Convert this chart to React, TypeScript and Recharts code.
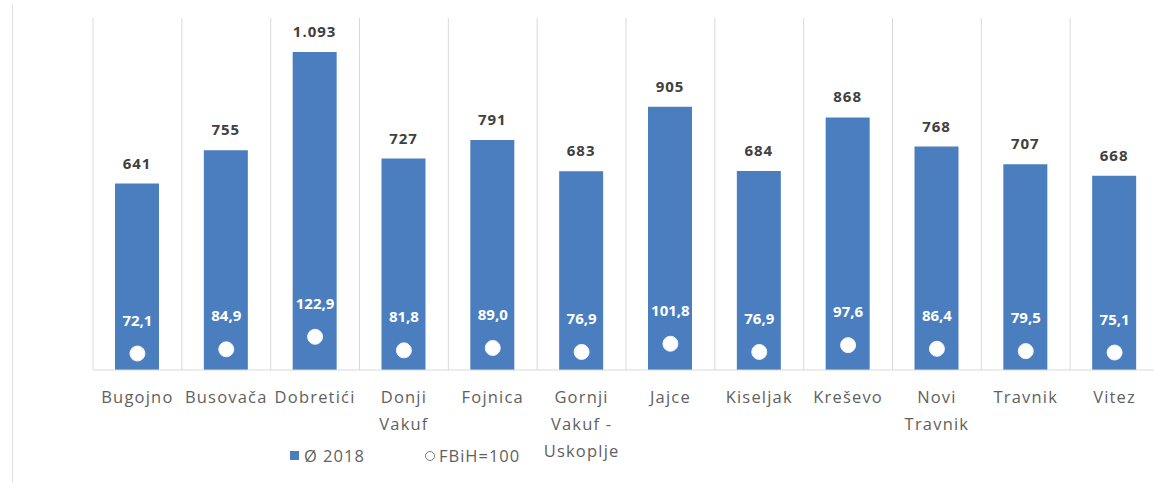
import {
  ComposedChart,
  Bar,
  Line,
  XAxis,
  YAxis,
  CartesianGrid,
  LabelList,
} from "recharts";

const municipalities = [
  "Bugojno",
  "Busovača",
  "Dobretići",
  "Donji\nVakuf",
  "Fojnica",
  "Gornji\nVakuf -\nUskoplje",
  "Jajce",
  "Kiseljak",
  "Kreševo",
  "Novi\nTravnik",
  "Travnik",
  "Vitez",
];
const avgWage2018 = [641, 755, 1093, 727, 791, 683, 905, 684, 868, 768, 707, 668];
const indexFbih = [72.1, 84.9, 122.9, 81.8, 89.0, 76.9, 101.8, 76.9, 97.6, 86.4, 79.5, 75.1];
const seriesNames = ["Ø 2018", "FBiH=100"];

const FONT = "'Open Sans', sans-serif";
const BLUE = "#4A7EBF";
const GRID = "#d9d9d9";

const chartData = municipalities.map((name, i) => ({
  name,
  wage: avgWage2018[i],
  index: indexFbih[i],
}));

const formatThousands = (v: number) =>
  v >= 1000 ? `${Math.floor(v / 1000)}.${String(v % 1000).padStart(3, "0")}` : String(v);

const formatIndex = (v: number) => v.toFixed(1).replace(".", ",");

function CategoryTick({ x, y, payload }: any) {
  const lines = String(payload.value).split("\n");
  return (
    <text
      x={x}
      y={y}
      textAnchor="middle"
      fill="#5f5f5f"
      fontSize={16.5}
      letterSpacing={1.2}
      fontFamily={FONT}
    >
      {lines.map((line, i) => (
        <tspan key={i} x={x} dy={i === 0 ? 33 : 27}>
          {line}
        </tspan>
      ))}
    </text>
  );
}

function ChartLegend() {
  return (
    <div
      style={{
        position: "absolute",
        left: 290,
        top: 444,
        display: "flex",
        alignItems: "center",
        fontFamily: FONT,
        fontSize: 16.5,
        letterSpacing: 1,
        color: "#5f5f5f",
      }}
    >
      <div style={{ display: "flex", alignItems: "center", width: 135 }}>
        <span style={{ width: 9, height: 9, background: BLUE, marginRight: 5 }} />
        <span>{seriesNames[0]}</span>
      </div>
      <div style={{ display: "flex", alignItems: "center" }}>
        <span
          style={{
            width: 8,
            height: 8,
            borderRadius: "50%",
            border: "1.5px solid #7f7f7f",
            marginRight: 4,
          }}
        />
        <span>{seriesNames[1]}</span>
      </div>
    </div>
  );
}

export default function App() {
  return (
    <div
      style={{
        position: "absolute",
        left: 0,
        top: 0,
        width: 1154,
        height: 483,
        overflow: "hidden",
        background: "#fff",
      }}
    >
      <div
        style={{
          position: "absolute",
          left: 12,
          top: 4,
          width: 1,
          height: 479,
          background: "#e0e0e0",
        }}
      />
      <ComposedChart
        width={1162}
        height={483}
        data={chartData}
        margin={{ top: 18, right: 3, left: 93, bottom: 0 }}
        barSize={44}
      >
        <CartesianGrid
          horizontal={false}
          stroke={GRID}
          verticalCoordinatesGenerator={({ offset }: any) =>
            Array.from(
              { length: municipalities.length + 1 },
              (_, i) => offset.left + (i * offset.width) / municipalities.length
            )
          }
        />
        <XAxis
          dataKey="name"
          interval={0}
          tickLine={false}
          tickSize={0}
          tickMargin={0}
          height={113}
          axisLine={{ stroke: GRID }}
          tick={<CategoryTick />}
        />
        <YAxis hide domain={[0, 1210]} />
        <YAxis yAxisId="idx" hide domain={[22, 1092]} />
        <Bar dataKey="wage" name={seriesNames[0]} fill={BLUE} isAnimationActive={false}>
          <LabelList
            dataKey="wage"
            position="top"
            offset={15}
            formatter={(v: any) => formatThousands(Number(v))}
            fill="#404040"
            fontSize={15}
            fontWeight="bold"
            letterSpacing={1}
            fontFamily={FONT}
          />
        </Bar>
        <Line
          yAxisId="idx"
          dataKey="index"
          name={seriesNames[1]}
          stroke="none"
          dot={{ r: 7.5, fill: "#ffffff", stroke: "#f4f4f4", strokeWidth: 1 }}
          activeDot={false}
          isAnimationActive={false}
        >
          <LabelList
            dataKey="index"
            position="top"
            offset={28}
            formatter={(v: any) => formatIndex(Number(v))}
            fill="#ffffff"
            fontSize={15}
            fontWeight="bold"
            fontFamily={FONT}
          />
        </Line>
      </ComposedChart>
      <ChartLegend />
    </div>
  );
}
